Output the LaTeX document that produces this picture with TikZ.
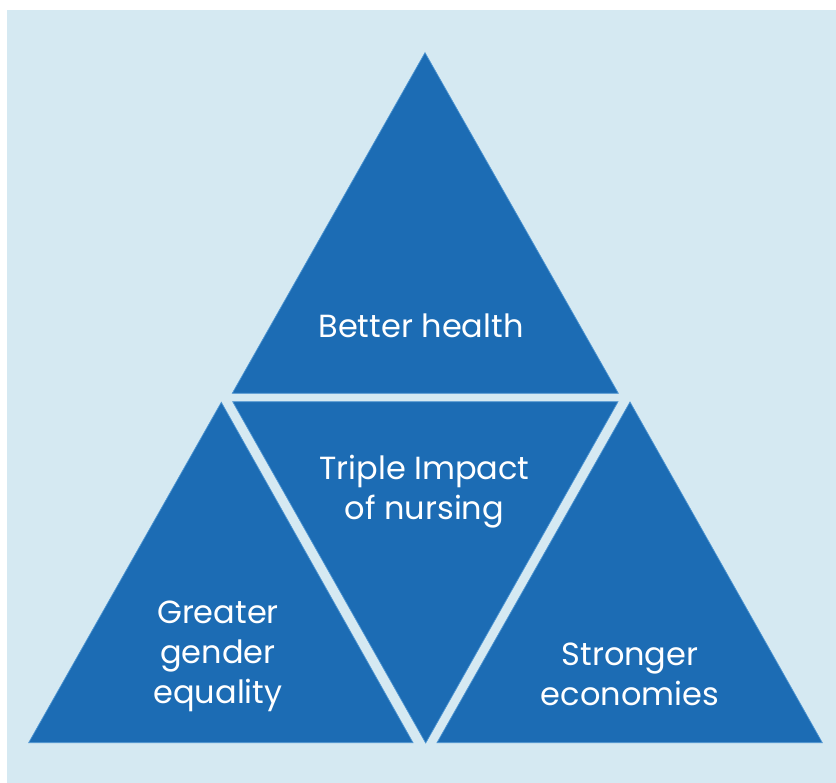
\documentclass[tikz,border=0pt]{standalone}
\usepackage{fontspec}
\setmainfont{Poppins}
\definecolor{bgblue}{HTML}{D5E9F2}
\definecolor{triblue}{HTML}{1C6CB4}
\definecolor{edgeblue}{HTML}{4E95D2}
\begin{document}
\begin{tikzpicture}[x=1pt,y=-1pt,
  tri/.style={fill=triblue,draw=edgeblue,line width=0.7pt,line join=miter},
  lbl/.style={text=white,align=center,font=\fontsize{32}{40}\selectfont,inner sep=0pt}]
\useasboundingbox (0,0) rectangle (836,783);
\fill[white] (0,0) rectangle (836,783);
\fill[bgblue] (7,10) rectangle (836,783);
% top triangle
\coordinate (t1) at (425,52.7);
\coordinate (t2) at (232.3,393.3);
\coordinate (t3) at (618.3,393.3);
\path[tri] (t1) -- (t2) -- (t3) -- cycle;
% middle inverted triangle
\coordinate (m1) at (232.7,401.7);
\coordinate (m2) at (618,401.7);
\coordinate (m3) at (425.7,743);
\path[tri] (m1) -- (m2) -- (m3) -- cycle;
% left triangle
\coordinate (l1) at (221.3,402.3);
\coordinate (l2) at (28.7,742.7);
\coordinate (l3) at (413,742.7);
\path[tri] (l1) -- (l2) -- (l3) -- cycle;
% right triangle
\coordinate (r1) at (630,402);
\coordinate (r2) at (437,742.7);
\coordinate (r3) at (822.3,742.7);
\path[tri] (r1) -- (r2) -- (r3) -- cycle;
% labels
\node[lbl] (health) at (421,326) {Better health};
\node[lbl] (triple) at (424.5,492) {Triple Impact\\of nursing};
\node[lbl] (gender) at (218,656) {Greater\\gender\\equality};
\node[lbl] (econ) at (630,674) {Stronger\\economies};
\end{tikzpicture}
\end{document}
